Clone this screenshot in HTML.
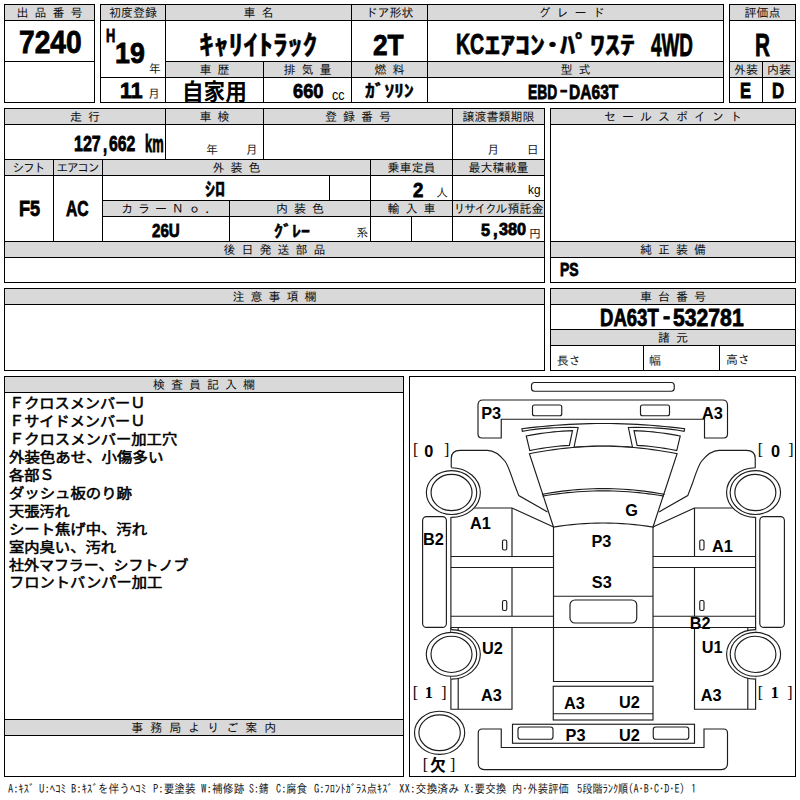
<!DOCTYPE html>
<html lang="ja">
<head>
<meta charset="utf-8">
<title>出品票 7240</title>
<style>
html,body{margin:0;padding:0;background:#fff;}
body{width:800px;height:800px;position:relative;overflow:hidden;font-family:"Liberation Sans","Noto Sans CJK JP",sans-serif;color:#000;}
.bx{position:absolute;box-sizing:border-box;border:1px solid #000;}
.hl{position:absolute;height:1px;background:#000;}
.vl{position:absolute;width:1px;background:#000;}
.hd{position:absolute;background:#d9d9d9;color:#0d0d0d;font:12px/15px "IPAGothic","Noto Sans CJK JP",monospace;text-align:center;white-space:pre;overflow:hidden;}
.k{letter-spacing:-1.5px;margin-right:1.5px;}
.k2{letter-spacing:-0.6px;}
.k3{letter-spacing:0.5px;}
.k4{position:relative;left:-4px;}
.t{position:absolute;white-space:pre;line-height:1;transform-origin:0 0;}
.b{font-family:"Liberation Sans","Noto Sans CJK JP",sans-serif;font-weight:700;-webkit-text-stroke:0.8px #000;}
.bk{font-family:"Liberation Sans","Noto Sans CJK JP",sans-serif;font-weight:700;-webkit-text-stroke:0.45px #000;}
.d{font-family:"Liberation Sans","Noto Sans CJK JP",sans-serif;font-weight:700;}
.g{font-family:"IPAGothic","Noto Sans CJK JP",monospace;font-weight:400;color:#1a1a1a;}
.n{font-family:"Liberation Sans","Noto Sans CJK JP",sans-serif;font-weight:400;}
.ln{display:block;transform-origin:0 0;}
.nb{font-family:"Liberation Sans","Noto Sans CJK JP",sans-serif;font-weight:400;-webkit-text-stroke:0.55px #000;}
.m{font-family:"Liberation Sans","Noto Sans CJK JP",sans-serif;font-weight:500;}
.s{font-family:"Liberation Serif","Noto Serif CJK SC",serif;font-weight:400;}
.sb{font-family:"Liberation Serif","Noto Serif CJK SC",serif;font-weight:700;}
.clip{position:absolute;overflow:hidden;}
#car{position:absolute;left:0;top:0;}
#car .o{fill:#fff;stroke:#1c1c1c;stroke-width:1.15;}
#car .l{fill:none;stroke:#1c1c1c;stroke-width:1.15;}

</style>
</head>
<body>
<div class="hd" style="left:5px;top:5px;width:89px;height:15px">出 品 番 号</div>
<div class="hd" style="left:101px;top:5px;width:64px;height:15px">初度登録</div>
<div class="hd" style="left:166px;top:5px;width:185px;height:15px">車 名</div>
<div class="hd" style="left:352px;top:5px;width:75px;height:15px">ドア形状</div>
<div class="hd" style="left:428px;top:5px;width:295px;height:15px"><span class="k4">グ レ ー ド</span></div>
<div class="hd" style="left:730px;top:5px;width:65px;height:15px">評価点</div>
<div class="hd" style="left:166px;top:62px;width:97px;height:15px">車 歴</div>
<div class="hd" style="left:264px;top:62px;width:87px;height:15px">排 気 量</div>
<div class="hd" style="left:352px;top:62px;width:75px;height:15px">燃 料</div>
<div class="hd" style="left:428px;top:62px;width:295px;height:15px">型 式</div>
<div class="hd" style="left:730px;top:62px;width:32px;height:15px">外装</div>
<div class="hd" style="left:763px;top:62px;width:32px;height:15px">内装</div>
<div class="hd" style="left:5px;top:109px;width:160px;height:15px">走 行</div>
<div class="hd" style="left:166px;top:109px;width:97px;height:15px">車 検</div>
<div class="hd" style="left:264px;top:109px;width:188px;height:15px">登 録 番 号</div>
<div class="hd" style="left:453px;top:109px;width:91px;height:15px">譲渡書類期限</div>
<div class="hd" style="left:5px;top:160px;width:48px;height:15px"><span class="k">シフト</span></div>
<div class="hd" style="left:54px;top:160px;width:48px;height:15px"><span class="k">エアコン</span></div>
<div class="hd" style="left:103px;top:160px;width:267px;height:15px">外 装 色</div>
<div class="hd" style="left:371px;top:160px;width:81px;height:15px">乗車定員</div>
<div class="hd" style="left:453px;top:160px;width:91px;height:15px">最大積載量</div>
<div class="hd" style="left:103px;top:201px;width:126px;height:15px"><span class="k2">カ ラ ー Ｎ ｏ .</span></div>
<div class="hd" style="left:230px;top:201px;width:140px;height:15px">内 装 色</div>
<div class="hd" style="left:371px;top:201px;width:81px;height:15px">輸 入 車</div>
<div class="hd" style="left:453px;top:201px;width:91px;height:15px"><span class="k">リサイクル</span>預託金</div>
<div class="hd" style="left:5px;top:242px;width:539px;height:15px">後 日 発 送 部 品</div>
<div class="hd" style="left:551px;top:109px;width:244px;height:15px">セ ー ル ス ポ イ ン ト</div>
<div class="hd" style="left:551px;top:242px;width:244px;height:15px">純 正 装 備</div>
<div class="hd" style="left:5px;top:289px;width:539px;height:15px">注 意 事 項 欄</div>
<div class="hd" style="left:551px;top:289px;width:244px;height:15px">車 台 番 号</div>
<div class="hd" style="left:551px;top:330px;width:244px;height:15px">諸 元</div>
<div class="hd" style="left:5px;top:377px;width:398px;height:15px">検 査 員 記 入 欄</div>
<div class="hd" style="left:5px;top:720px;width:398px;height:15px"><span class="k3">事 務 局 よ り ご 案 内</span></div>
<div class="bx" style="left:4px;top:4px;width:91px;height:99px"></div>
<div class="bx" style="left:100px;top:4px;width:624px;height:99px"></div>
<div class="bx" style="left:729px;top:4px;width:67px;height:99px"></div>
<div class="bx" style="left:4px;top:108px;width:541px;height:175px"></div>
<div class="bx" style="left:550px;top:108px;width:246px;height:175px"></div>
<div class="bx" style="left:4px;top:288px;width:541px;height:83px"></div>
<div class="bx" style="left:550px;top:288px;width:246px;height:83px"></div>
<div class="bx" style="left:4px;top:376px;width:400px;height:401px"></div>
<div class="bx" style="left:409px;top:376px;width:387px;height:401px"></div>
<div class="hl" style="left:4px;top:20px;width:91px"></div>
<div class="hl" style="left:4px;top:61px;width:91px"></div>
<div class="hl" style="left:100px;top:20px;width:624px"></div>
<div class="hl" style="left:165px;top:61px;width:559px"></div>
<div class="hl" style="left:100px;top:77px;width:624px"></div>
<div class="hl" style="left:729px;top:20px;width:67px"></div>
<div class="hl" style="left:729px;top:61px;width:67px"></div>
<div class="hl" style="left:729px;top:77px;width:67px"></div>
<div class="hl" style="left:4px;top:124px;width:541px"></div>
<div class="hl" style="left:4px;top:159px;width:541px"></div>
<div class="hl" style="left:4px;top:175px;width:541px"></div>
<div class="hl" style="left:102px;top:200px;width:443px"></div>
<div class="hl" style="left:102px;top:216px;width:443px"></div>
<div class="hl" style="left:4px;top:241px;width:541px"></div>
<div class="hl" style="left:4px;top:257px;width:541px"></div>
<div class="hl" style="left:550px;top:124px;width:246px"></div>
<div class="hl" style="left:550px;top:241px;width:246px"></div>
<div class="hl" style="left:550px;top:257px;width:246px"></div>
<div class="hl" style="left:4px;top:304px;width:541px"></div>
<div class="hl" style="left:550px;top:304px;width:246px"></div>
<div class="hl" style="left:550px;top:329px;width:246px"></div>
<div class="hl" style="left:550px;top:345px;width:246px"></div>
<div class="hl" style="left:4px;top:392px;width:400px"></div>
<div class="hl" style="left:4px;top:719px;width:400px"></div>
<div class="hl" style="left:4px;top:735px;width:400px"></div>
<div class="vl" style="left:165px;top:4px;height:99px"></div>
<div class="vl" style="left:263px;top:61px;height:42px"></div>
<div class="vl" style="left:351px;top:4px;height:99px"></div>
<div class="vl" style="left:427px;top:4px;height:99px"></div>
<div class="vl" style="left:762px;top:61px;height:42px"></div>
<div class="vl" style="left:165px;top:108px;height:52px"></div>
<div class="vl" style="left:263px;top:108px;height:52px"></div>
<div class="vl" style="left:452px;top:108px;height:134px"></div>
<div class="vl" style="left:53px;top:159px;height:83px"></div>
<div class="vl" style="left:102px;top:159px;height:83px"></div>
<div class="vl" style="left:370px;top:159px;height:83px"></div>
<div class="vl" style="left:329px;top:175px;height:26px"></div>
<div class="vl" style="left:229px;top:200px;height:42px"></div>
<div class="vl" style="left:411px;top:216px;height:26px"></div>
<div class="vl" style="left:643px;top:345px;height:26px"></div>
<div class="vl" style="left:719px;top:345px;height:26px"></div>
<svg id="car" width="800" height="800" viewBox="0 0 800 800">
<rect class="o" x="531.50" y="382.50" width="142.75" height="8.75" rx="3.0"/>
<path class="o" d="M483 400L722.5 400Q727.5 400 727.5 405L727.5 434Q727.5 438 723.5 438L704.5 438L704.5 419.25L501.25 419.25L501.25 438L482 438Q478 438 478 434L478 405Q478 400 483 400Z"/>
<rect class="o" x="532.50" y="405.00" width="29.25" height="10.75" rx="2.0"/>
<rect class="o" x="640.50" y="405.00" width="29.00" height="10.75" rx="2.0"/>
<path class="o" d="M521.90 428.75L528.68 427.91L535.46 427.15L542.24 426.45L549.02 425.83L555.80 425.29L562.57 424.81L569.35 424.41L576.13 424.08L582.91 423.83L589.69 423.65L596.47 423.54L603.25 423.50L610.03 423.54L616.81 423.65L623.59 423.83L630.37 424.08L637.15 424.41L643.92 424.81L650.70 425.29L657.48 425.83L664.26 426.45L671.04 427.15L677.82 427.91L684.60 428.75L684.1 431.25L684.10 431.25L678.07 430.24L671.77 429.38L665.20 428.68L658.38 428.14L651.28 427.75L643.92 427.51L636.29 427.43L628.40 427.50L632.5 447.25L632.50 447.25L627.62 446.86L622.75 446.54L617.88 446.29L613.00 446.12L608.12 446.01L603.25 445.98L598.38 446.01L593.50 446.12L588.62 446.29L583.75 446.54L578.88 446.86L574.00 447.25L578.1 427.5L578.10 427.50L570.21 427.43L562.58 427.51L555.22 427.75L548.12 428.14L541.30 428.68L534.73 429.38L528.43 430.24L522.40 431.25Z"/>
<path class="o" d="M526.25 436.00L530.72 435.15L535.22 434.38L539.76 433.67L544.33 433.02L548.94 432.45L553.58 431.94L558.26 431.51L562.97 431.14L567.72 430.83L572.50 430.60L569.4 445.4L569.40 445.40L565.51 445.63L561.61 445.93L557.68 446.29L553.74 446.71L549.79 447.20L545.81 447.75L541.82 448.37L537.82 449.05L533.79 449.79L529.75 450.60Z"/>
<path class="o" d="M680.25 436.00L675.78 435.15L671.28 434.38L666.74 433.67L662.17 433.02L657.56 432.45L652.92 431.94L648.24 431.51L643.53 431.14L638.78 430.83L634.00 430.60L637.1 445.4L637.10 445.40L640.99 445.63L644.89 445.93L648.82 446.29L652.76 446.71L656.71 447.20L660.69 447.75L664.68 448.37L668.68 449.05L672.71 449.79L676.75 450.60Z"/>
<path class="o" d="M529.40 453.75L535.55 452.55L541.71 451.46L547.86 450.47L554.02 449.58L560.17 448.80L566.32 448.12L572.48 447.55L578.63 447.08L584.79 446.72L590.94 446.46L597.10 446.30L603.25 446.25L609.40 446.30L615.56 446.46L621.71 446.72L627.87 447.08L634.02 447.55L640.17 448.12L646.33 448.80L652.48 449.58L658.64 450.47L664.79 451.46L670.95 452.55L677.10 453.75L653 527L653.00 527.00L646.78 526.06L640.56 525.25L634.34 524.56L628.12 524.00L621.91 523.56L615.69 523.25L609.47 523.06L603.25 523.00L597.03 523.06L590.81 523.25L584.59 523.56L578.38 524.00L572.16 524.56L565.94 525.25L559.72 526.06L553.50 527.00Z"/>
<path class="l" d="M541.90 494.40L547.01 493.47L552.12 492.63L557.24 491.86L562.35 491.18L567.46 490.57L572.57 490.05L577.69 489.61L582.80 489.24L587.91 488.96L593.02 488.76L598.14 488.64L603.25 488.60L608.36 488.64L613.48 488.76L618.59 488.96L623.70 489.24L628.81 489.61L633.92 490.05L639.04 490.57L644.15 491.18L649.26 491.86L654.38 492.63L659.49 493.47L664.60 494.40"/>
<path class="l" d="M542.50 496.10L547.56 495.27L552.62 494.51L557.69 493.82L562.75 493.21L567.81 492.67L572.88 492.20L577.94 491.80L583.00 491.48L588.06 491.23L593.12 491.04L598.19 490.94L603.25 490.90L608.31 490.94L613.38 491.04L618.44 491.23L623.50 491.48L628.56 491.80L633.62 492.20L638.69 492.67L643.75 493.21L648.81 493.83L653.88 494.51L658.94 495.27L664.00 496.10"/>
<path class="l" d="M451.25 467.5L451.25 458.5Q451.25 450.3 460 450.3L487.5 450.3C494 450.3 500 455 505 461.25C508.5 466 511.5 476 513.75 482.5L518.75 495.6L547.5 511.9"/>
<path class="l" d="M755.25 467.5L755.25 458.5Q755.25 450.3 746.5 450.3L719 450.3C712.5 450.3 706.5 455 701.5 461.25C698 466 695 476 692.75 482.5L687.75 495.6L659 511.9"/>
<path class="l" d="M473.7 508L512 508L553.6 527"/>
<path class="l" d="M450.9 517L450.9 629.5"/>
<path class="l" d="M512 508L512 556.5M512 567.5L512 616.25"/>
<path class="l" d="M450.9 556.5L553.6 556.5M450.9 567.5L553.6 567.5M450.9 616.25L553.6 616.25"/>
<rect class="o" x="502.50" y="540.00" width="4.25" height="10.00" rx="1.5"/>
<rect class="o" x="502.50" y="600.50" width="4.25" height="10.00" rx="1.5"/>
<path class="l" d="M732.8 508L694.5 508L652.9 527"/>
<path class="l" d="M755.6 517L755.6 629.5"/>
<path class="l" d="M694.5 508L694.5 556.5M694.5 567.5L694.5 616.25"/>
<path class="l" d="M755.6 556.5L652.9 556.5M755.6 567.5L652.9 567.5M755.6 616.25L652.9 616.25"/>
<rect class="o" x="699.75" y="540.00" width="4.25" height="10.00" rx="1.5"/>
<rect class="o" x="699.75" y="600.50" width="4.25" height="10.00" rx="1.5"/>
<path class="l" d="M553.5 527L553.5 681.5L653 681.5L653 527"/>
<path class="l" d="M553.5 596.25L653 596.25"/>
<rect class="o" x="570.00" y="600.00" width="66.75" height="23.00" rx="5.0"/>
<path class="l" d="M450.9 627.5L755.6 627.5"/>
<path class="l" d="M450.9 627.5L450.9 709.25L512 709.25L512 627.5M458.2 627.5L458.2 709.25"/>
<path class="l" d="M755.6 627.5L755.6 709.25L694.5 709.25L694.5 627.5M747.8 627.5L747.8 709.25"/>
<rect class="o" x="553.25" y="686.25" width="99.75" height="33.75" rx="0.0"/>
<path class="l" d="M553.25 713.75L653 713.75"/>
<rect class="o" x="512.50" y="724.25" width="182.00" height="19.00" rx="0.0"/>
<rect class="o" x="518.00" y="727.00" width="35.00" height="12.25" rx="2.5"/>
<rect class="o" x="653.25" y="727.00" width="35.50" height="12.25" rx="2.5"/>
<path class="o" d="M482.25 729Q478.25 729 478.25 733L478.25 763.6Q478.25 769.6 484.25 769.6L721.5 769.6Q727.5 769.6 727.5 763.6L727.5 733Q727.5 729 723.5 729L704 729L704 747.5L501.25 747.5L501.25 729Z"/>
<rect class="o" x="422.60" y="516.60" width="23.80" height="110.80" rx="4.0"/>
<rect class="o" x="759.80" y="516.60" width="24.60" height="110.80" rx="4.0"/>
<path class="o" d="M451.15 467.75A29.2 24.8 0 0 1 451.15 517.35"/>
<ellipse class="o" cx="451.55" cy="492.55" rx="25.20" ry="21.90"/>
<ellipse class="o" cx="451.55" cy="492.55" rx="20.50" ry="18.10"/>
<path class="o" d="M755.75 467.75A29.2 24.8 0 0 0 755.75 517.35"/>
<ellipse class="o" cx="755.35" cy="492.55" rx="25.20" ry="21.90"/>
<ellipse class="o" cx="755.35" cy="492.55" rx="20.50" ry="18.10"/>
<path class="o" d="M451.1 629.55A29.2 24.8 0 0 1 451.1 679.15"/>
<ellipse class="o" cx="451.50" cy="654.35" rx="25.20" ry="21.90"/>
<ellipse class="o" cx="451.50" cy="654.35" rx="20.50" ry="18.10"/>
<path class="o" d="M755.8 629.55A29.2 24.8 0 0 0 755.8 679.15"/>
<ellipse class="o" cx="755.40" cy="654.35" rx="25.20" ry="21.90"/>
<ellipse class="o" cx="755.40" cy="654.35" rx="20.50" ry="18.10"/>
<ellipse class="o" cx="439.60" cy="732.80" rx="25.10" ry="21.60"/>
<ellipse class="o" cx="439.60" cy="732.80" rx="20.70" ry="17.90"/>
</svg>
<span class="t b" style="left:19.10px;top:26.75px;font-size:31.35px;transform:scaleX(0.8980);">7240</span>
<span class="t b" style="left:106.39px;top:25.50px;font-size:19.01px;transform:scaleX(0.6776);">H</span>
<span class="t b" style="left:115.30px;top:39.07px;font-size:29.24px;transform:scaleX(0.9166);">19</span>
<span class="t g" style="left:148.65px;top:62.18px;font-size:12.00px;">年</span>
<span class="t b" style="left:119.76px;top:80.45px;font-size:22.41px;transform:scaleX(0.9501);">11</span>
<span class="t g" style="left:148.01px;top:86.81px;font-size:12.00px;">月</span>
<span class="t bk" style="left:198.66px;top:31.57px;font-size:27.44px;transform:scaleX(1.0779);">ｷｬﾘｲﾄﾗｯｸ</span>
<span class="t b" style="left:373.37px;top:30.50px;font-size:29.19px;transform:scaleX(0.8991);">2T</span>
<span class="t b" style="left:455.71px;top:29.38px;font-size:29.94px;transform:scaleX(0.6529);">KC</span>
<span class="t bk" style="left:485.25px;top:33.00px;font-size:25.18px;transform:scaleX(1.1908);">ｴｱｺﾝ･ﾊﾟﾜｽﾃ</span>
<span class="t b" style="left:650.85px;top:29.50px;font-size:30.61px;transform:scaleX(0.6176);">4WD</span>
<span class="t b" style="left:755.05px;top:30.50px;font-size:30.97px;transform:scaleX(0.6699);">R</span>
<div class="clip" style="left:166px;top:78px;width:97px;height:25px"><span class="t d" style="left:16.10px;top:4.20px;font-size:22.35px;transform:scaleX(0.9671);">自家用</span></div>
<span class="t b" style="left:292.53px;top:81.01px;font-size:20.53px;transform:scaleX(0.8901);">660</span>
<span class="t n" style="left:331.64px;top:88.20px;font-size:14.50px;transform:scaleX(0.8683);">cc</span>
<span class="t bk" style="left:365.02px;top:83.38px;font-size:17.14px;transform:scaleX(1.1406);">ｶﾞｿﾘﾝ</span>
<span class="t b" style="left:528.45px;top:80.78px;font-size:21.01px;transform:scaleX(0.6602);">EBD</span>
<span class="t b" style="left:560.10px;top:82.44px;font-size:15.48px;transform:scaleX(1.4371);">-</span>
<span class="t b" style="left:569.17px;top:81.90px;font-size:20.67px;transform:scaleX(0.7534);">DA63T</span>
<span class="t b" style="left:740.15px;top:79.75px;font-size:22.27px;transform:scaleX(0.7427);">E</span>
<span class="t b" style="left:772.29px;top:79.75px;font-size:22.27px;transform:scaleX(0.7572);">D</span>
<span class="t b" style="left:73.68px;top:133.10px;font-size:22.20px;transform:scaleX(0.7200);">127</span>
<span class="t b" style="left:102.96px;top:133.85px;font-size:21.96px;transform:scaleX(0.6872);">,</span>
<span class="t b" style="left:108.65px;top:132.79px;font-size:22.20px;transform:scaleX(0.7100);">662</span>
<span class="t b" style="left:144.91px;top:133.11px;font-size:23.71px;transform:scaleX(0.5435);">km</span>
<span class="t g" style="left:205.93px;top:142.98px;font-size:12.00px;">年</span>
<span class="t g" style="left:245.69px;top:142.73px;font-size:12.00px;">月</span>
<span class="t g" style="left:487.37px;top:142.71px;font-size:12.00px;">月</span>
<span class="t g" style="left:526.70px;top:143.47px;font-size:12.00px;">日</span>
<span class="t b" style="left:18.51px;top:198.12px;font-size:22.11px;transform:scaleX(0.8168);">F5</span>
<span class="t b" style="left:65.86px;top:197.88px;font-size:21.98px;transform:scaleX(0.7124);">AC</span>
<span class="t bk" style="left:205.49px;top:179.73px;font-size:18.98px;transform:scaleX(1.0617);">ｼﾛ</span>
<span class="t b" style="left:412.62px;top:179.59px;font-size:20.88px;transform:scaleX(0.8946);">2</span>
<span class="t g" style="left:436.00px;top:185.85px;font-size:12.00px;">人</span>
<span class="t n" style="left:528.44px;top:183.44px;font-size:13.27px;transform:scaleX(0.8887);">kg</span>
<span class="t b" style="left:152.23px;top:221.13px;font-size:19.28px;transform:scaleX(0.7856);">26U</span>
<span class="t bk" style="left:273.69px;top:223.81px;font-size:15.75px;transform:scaleX(1.1406);">ｸﾞﾚｰ</span>
<span class="t g" style="left:356.21px;top:226.05px;font-size:12.00px;">系</span>
<span class="t b" style="left:480.65px;top:221.52px;font-size:17.30px;transform:scaleX(0.9400);">5</span>
<span class="t b" style="left:492.88px;top:222.24px;font-size:17.81px;transform:scaleX(0.9550);">,</span>
<span class="t b" style="left:499.40px;top:221.38px;font-size:17.30px;transform:scaleX(0.9400);">380</span>
<span class="t g" style="left:528.95px;top:226.65px;font-size:12.00px;">円</span>
<span class="t b" style="left:559.83px;top:261.26px;font-size:18.46px;transform:scaleX(0.7588);">PS</span>
<span class="t b" style="left:600.12px;top:305.80px;font-size:24.00px;transform:scaleX(0.7728);">DA63T</span>
<span class="t b" style="left:663.36px;top:307.07px;font-size:19.55px;transform:scaleX(1.0982);">-</span>
<span class="t b" style="left:673.26px;top:305.80px;font-size:24.00px;transform:scaleX(0.8823);">532781</span>
<span class="t g" style="left:556.75px;top:353.83px;font-size:12.00px;">長さ</span>
<span class="t g" style="left:649.11px;top:353.53px;font-size:12.00px;">幅</span>
<span class="t g" style="left:725.90px;top:353.25px;font-size:12.00px;">高さ</span>
<span class="t nb" style="left:8.83px;top:395.37px;font-size:14.10px;transform:scaleX(1.0920);line-height:17.9px;"><span class="ln" style="transform:scaleX(0.9850)">ＦクロスメンバーＵ</span><span class="ln" style="transform:scaleX(0.9850)">ＦサイドメンバーＵ</span><span class="ln" style="transform:scaleX(0.9935)">Ｆクロスメンバー加工穴</span><span class="ln" style="transform:scaleX(1.0030)">外装色あせ、小傷多い</span><span class="ln" style="transform:scaleX(0.9850)">各部Ｓ</span><span class="ln" style="transform:scaleX(0.9980)">ダッシュ板のり跡</span><span class="ln" style="transform:scaleX(0.9850)">天張汚れ</span><span class="ln" style="transform:scaleX(0.9960)">シート焦げ中、汚れ</span><span class="ln" style="transform:scaleX(0.9930)">室内臭い、汚れ</span><span class="ln" style="transform:scaleX(0.9720)">社外マフラー、シフトノブ</span><span class="ln" style="transform:scaleX(0.9900)">フロントバンパー加工</span></span>
<span class="t d" style="left:481.24px;top:404.75px;font-size:16.30px;">P3</span>
<span class="t d" style="left:702.01px;top:404.75px;font-size:16.30px;">A3</span>
<span class="t d" style="left:625.28px;top:502.24px;font-size:16.30px;">G</span>
<span class="t d" style="left:591.39px;top:533.00px;font-size:16.30px;">P3</span>
<span class="t d" style="left:470.05px;top:514.75px;font-size:16.30px;">A1</span>
<span class="t d" style="left:422.95px;top:530.50px;font-size:16.30px;">B2</span>
<span class="t d" style="left:711.91px;top:537.50px;font-size:16.30px;">A1</span>
<span class="t d" style="left:591.78px;top:573.50px;font-size:16.30px;">S3</span>
<span class="t d" style="left:689.67px;top:615.25px;font-size:16.30px;">B2</span>
<span class="t d" style="left:481.99px;top:639.50px;font-size:16.30px;">U2</span>
<span class="t d" style="left:701.64px;top:639.00px;font-size:16.30px;">U1</span>
<span class="t d" style="left:480.91px;top:687.25px;font-size:16.30px;">A3</span>
<span class="t d" style="left:700.84px;top:686.50px;font-size:16.30px;">A3</span>
<span class="t d" style="left:564.01px;top:694.50px;font-size:16.30px;">A3</span>
<span class="t d" style="left:618.99px;top:694.00px;font-size:16.30px;">U2</span>
<span class="t d" style="left:565.56px;top:727.00px;font-size:16.30px;">P3</span>
<span class="t d" style="left:618.99px;top:727.00px;font-size:16.30px;">U2</span>
<span class="t s" style="left:413.11px;top:442.00px;font-size:16.00px;">[</span>
<span class="t d" style="left:424.36px;top:442.60px;font-size:16.30px;">0</span>
<span class="t s" style="left:444.03px;top:442.00px;font-size:16.00px;">]</span>
<span class="t s" style="left:757.83px;top:442.00px;font-size:16.00px;">[</span>
<span class="t d" style="left:770.94px;top:442.60px;font-size:16.30px;">0</span>
<span class="t s" style="left:788.37px;top:442.00px;font-size:16.00px;">]</span>
<span class="t s" style="left:412.83px;top:685.00px;font-size:16.00px;">[</span>
<span class="t sb" style="left:424.65px;top:685.47px;font-size:16.30px;">1</span>
<span class="t s" style="left:441.37px;top:685.00px;font-size:16.00px;">]</span>
<span class="t s" style="left:757.83px;top:685.00px;font-size:16.00px;">[</span>
<span class="t sb" style="left:770.65px;top:685.47px;font-size:16.30px;">1</span>
<span class="t s" style="left:787.37px;top:685.00px;font-size:16.00px;">]</span>
<span class="t s" style="left:422.83px;top:756.50px;font-size:16.00px;">[</span>
<span class="t d" style="left:430.32px;top:758.20px;font-size:15.50px;">欠</span>
<span class="t s" style="left:450.03px;top:756.50px;font-size:16.00px;">]</span>
<span class="t g" style="left:8.21px;top:781.80px;font-size:12.00px;transform:scaleX(0.8797);">A:ｷｽﾞ</span>
<span class="t g" style="left:39.19px;top:781.80px;font-size:12.00px;transform:scaleX(0.8969);">U:ﾍｺﾐ</span>
<span class="t g" style="left:71.27px;top:781.80px;font-size:12.00px;transform:scaleX(0.8932);">B:ｷｽﾞを伴うﾍｺﾐ</span>
<span class="t g" style="left:153.08px;top:781.80px;font-size:12.00px;transform:scaleX(0.8891);">P:要塗装</span>
<span class="t g" style="left:200.62px;top:781.80px;font-size:12.00px;transform:scaleX(0.9063);">W:補修跡</span>
<span class="t g" style="left:249.03px;top:781.80px;font-size:12.00px;transform:scaleX(0.8220);">S:錆</span>
<span class="t g" style="left:275.79px;top:781.80px;font-size:12.00px;transform:scaleX(0.8598);">C:腐食</span>
<span class="t g" style="left:313.77px;top:781.80px;font-size:12.00px;transform:scaleX(0.8759);">G:ﾌﾛﾝﾄｶﾞﾗｽ点ｷｽﾞ</span>
<span class="t g" style="left:399.13px;top:781.80px;font-size:12.00px;transform:scaleX(0.9127);">XX:交換済み</span>
<span class="t g" style="left:464.18px;top:781.80px;font-size:12.00px;transform:scaleX(0.8816);">X:要交換</span>
<span class="t g" style="left:512.27px;top:781.80px;font-size:12.00px;transform:scaleX(0.8611);">内･外装評価</span>
<span class="t g" style="left:576.94px;top:781.80px;font-size:12.00px;transform:scaleX(0.8549);">5段階ﾗﾝｸ順(A･B･C･D･E)</span>
<span class="t g" style="left:690.53px;top:781.80px;font-size:12.00px;transform:scaleX(0.8800);">1</span>
</body>
</html>
